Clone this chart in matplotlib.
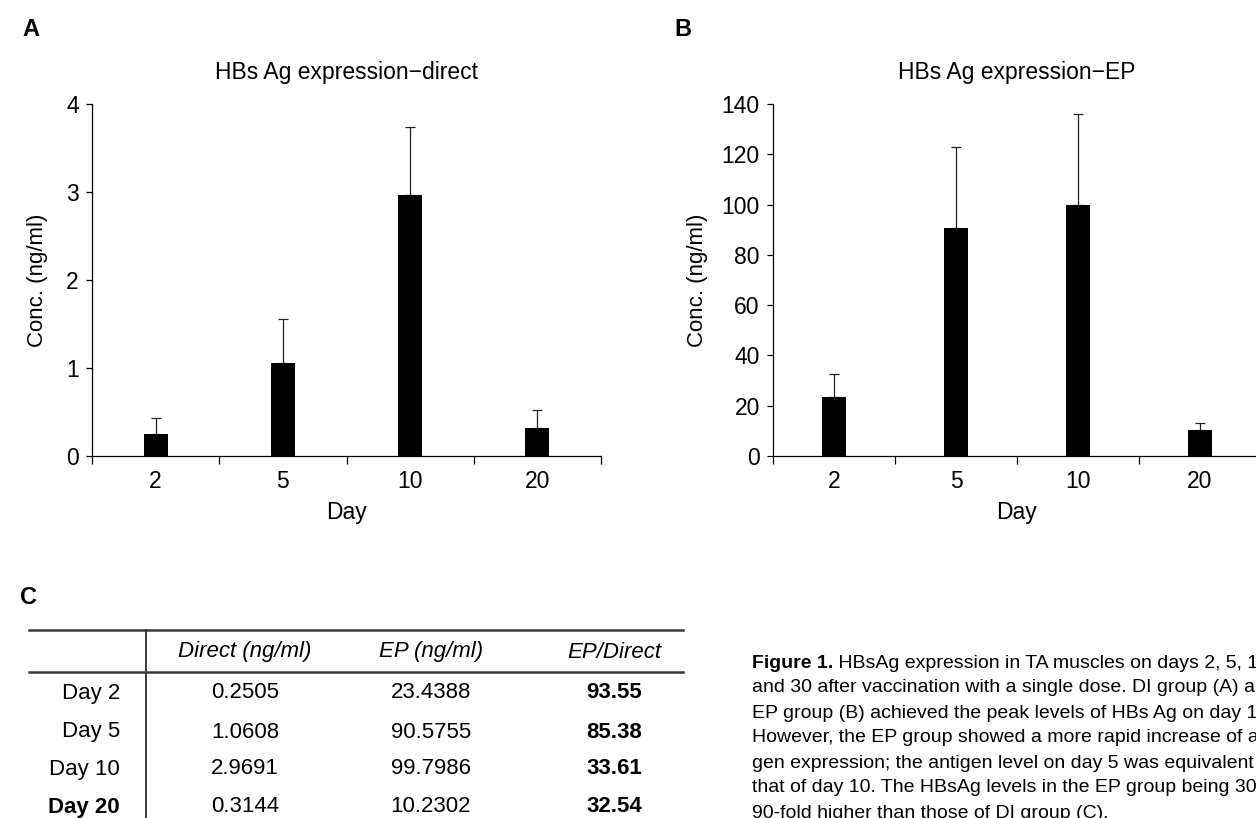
import numpy as np
import matplotlib
matplotlib.use("Agg")
import matplotlib.pyplot as plt

plt.rcParams['font.family'] = ['Liberation Sans', 'DejaVu Sans']

days = ["2", "5", "10", "20"]
direct_mean = [0.2505, 1.0608, 2.9691, 0.3144]
direct_err = [0.18, 0.50, 0.77, 0.21]
ep_mean = [23.4388, 90.5755, 99.7986, 10.2302]
ep_err = [9.3, 32.4, 36.1, 3.0]

row_labels = ["Day 2", "Day 5", "Day 10", "Day 20"]
col_labels = ["Direct (ng/ml)", "EP (ng/ml)", "EP/Direct"]
direct_txt = ["0.2505", "1.0608", "2.9691", "0.3144"]
ep_txt = ["23.4388", "90.5755", "99.7986", "10.2302"]
ratio_txt = ["93.55", "85.38", "33.61", "32.54"]

caption_lines = [
    "HBsAg expression in TA muscles on days 2, 5, 10, 20,",
    "and 30 after vaccination with a single dose. DI group (A) and",
    "EP group (B) achieved the peak levels of HBs Ag on day 10.",
    "However, the EP group showed a more rapid increase of anti-",
    "gen expression; the antigen level on day 5 was equivalent to",
    "that of day 10. The HBsAg levels in the EP group being 30 to",
    "90-fold higher than those of DI group (C).",
]

W, H = 1256, 818
fig = plt.figure(figsize=(W / 100, H / 100), dpi=100)


def px_axes(x0, x1, ytop, ybot):
    return fig.add_axes([x0 / W, (H - ybot) / H, (x1 - x0) / W, (ybot - ytop) / H])


def bar_panel(ax, means, errs, ymax, ystep, title, height_px):
    x = np.arange(len(days))
    ax.bar(x, means, width=0.19, color='black', zorder=2)
    ax.errorbar(x, means, yerr=[np.zeros(len(errs)), errs], fmt='none',
                ecolor='#222222', elinewidth=0.9, capsize=3.3, capthick=0.9, zorder=1)
    ax.set_xlim(-0.5, len(days) - 0.5)
    ax.set_ylim(0, ymax)
    ax.set_yticks(np.arange(0, ymax + ystep / 2, ystep))
    ax.set_xticks(np.arange(-0.5, len(days), 1.0))
    ax.set_xticklabels([])
    ax.set_xticks(x, minor=True)
    ax.set_xticklabels(days, minor=True, fontsize=16.5)
    ax.tick_params(axis='x', which='major', length=5.5, width=0.9, direction='out')
    ax.tick_params(axis='x', which='minor', length=0, pad=10)
    ax.tick_params(axis='y', length=4.5, width=0.9, labelsize=16.5, pad=5)
    for s in ['top', 'right']:
        ax.spines[s].set_visible(False)
    for s in ['left', 'bottom']:
        ax.spines[s].set_linewidth(0.9)
    ax.set_ylabel("Conc. (ng/ml)", fontsize=16)
    ax.yaxis.label.set_verticalalignment('center')
    ax.set_xlabel("Day", fontsize=16.5)
    ax.xaxis.label.set_verticalalignment('center')
    ax.xaxis.set_label_coords(0.5, -56 / height_px)
    ax.text(0.5, 384 / height_px, title, transform=ax.transAxes,
            ha='center', va='center', fontsize=16.5)


ax1 = px_axes(92, 601, 104, 456)
bar_panel(ax1, direct_mean, direct_err, 4, 1, "HBs Ag expression\u2212direct", 352)
ax1.yaxis.set_label_coords(-(92 - 37) / 509, 0.5)

ax2 = px_axes(773, 1261, 104, 456)
bar_panel(ax2, ep_mean, ep_err, 140, 20, "HBs Ag expression\u2212EP", 352)
ax2.yaxis.set_label_coords(-(773 - 697) / 488, 0.5)

narrow = ['Liberation Sans Narrow', 'Liberation Sans', 'DejaVu Sans']
fig.text(22 / W, 1 - 29 / H, "A", fontsize=17, fontweight='bold', family=narrow, ha='left', va='center')
fig.text(674 / W, 1 - 29 / H, "B", fontsize=17, fontweight='bold', family=narrow, ha='left', va='center')
fig.text(20 / W, 1 - 597 / H, "C", fontsize=17, fontweight='bold', family=narrow, ha='left', va='center')

# table C and caption drawn on a full-figure pixel axes
tax = fig.add_axes([0, 0, 1, 1])
tax.set_xlim(0, W)
tax.set_ylim(H, 0)
tax.axis('off')

tax.plot([29, 683], [630, 630], color='#3a3a3a', lw=1.8)
tax.plot([29, 683], [672, 672], color='#3a3a3a', lw=1.8)
tax.plot([146, 146], [630, H + 5], color='#3a3a3a', lw=1.4)

col_x = [245, 431, 614]
for cx, lab in zip(col_x, col_labels):
    tax.text(cx, 652, lab, ha='center', va='center', fontsize=16, style='italic')

row_y = [693, 732, 769, 807]
for i, ry in enumerate(row_y):
    bold = 'bold' if row_labels[i] == "Day 20" else 'normal'
    tax.text(120, ry, row_labels[i], ha='right', va='center', fontsize=16, fontweight=bold)
    tax.text(col_x[0], ry, direct_txt[i], ha='center', va='center', fontsize=16)
    tax.text(col_x[1], ry, ep_txt[i], ha='center', va='center', fontsize=16)
    tax.text(col_x[2], ry, ratio_txt[i], ha='center', va='center', fontsize=16, fontweight='bold')

t0 = tax.text(752, 663, "Figure 1.", ha='left', va='center', fontsize=14,
              fontweight='bold', family=narrow)
tax.annotate(" " + caption_lines[0], xy=(1, 0.5), xycoords=t0, ha='left', va='center', fontsize=14)
for k, line in enumerate(caption_lines[1:], start=1):
    tax.text(752, 663 + 25 * k, line, ha='left', va='center', fontsize=14)

fig.savefig("out.png", dpi=100)
